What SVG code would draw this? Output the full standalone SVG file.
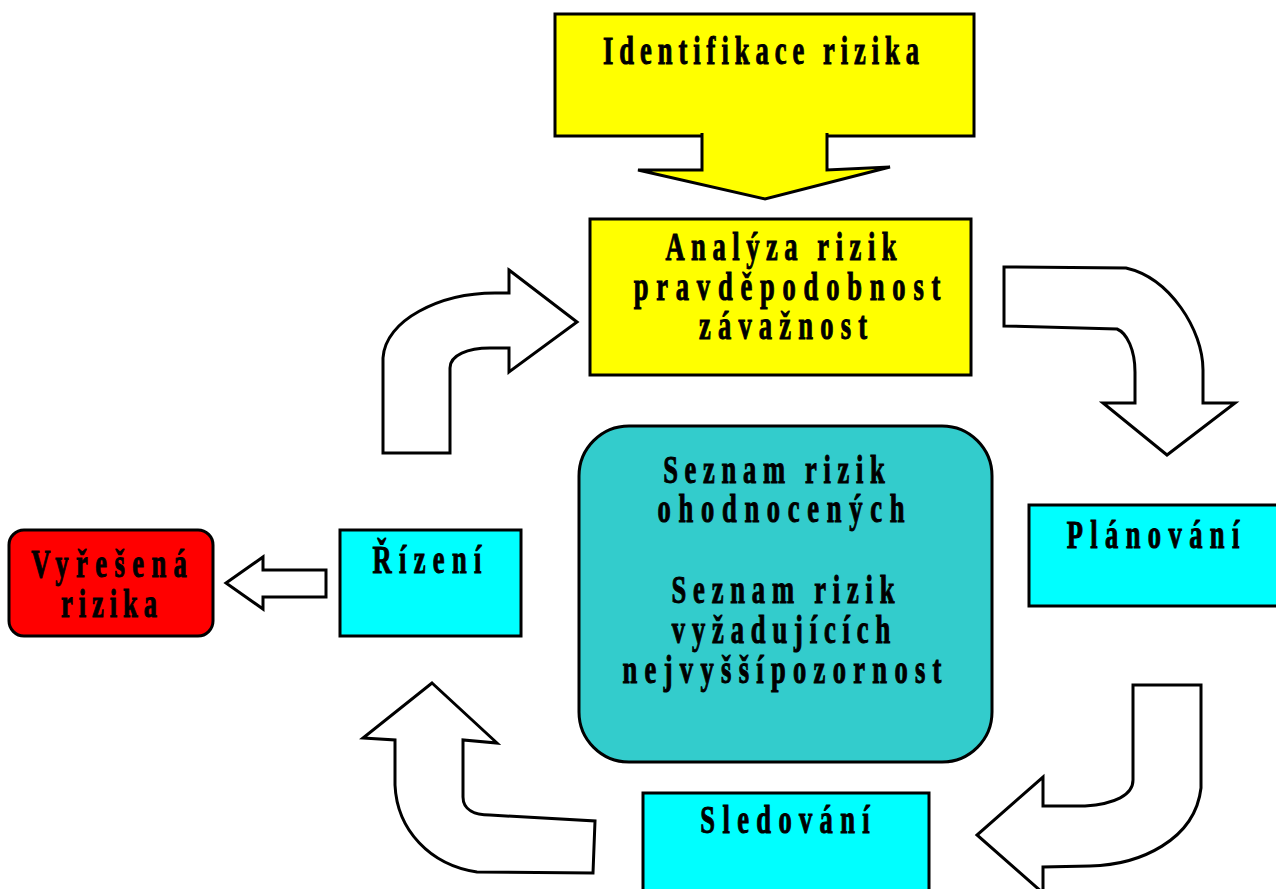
<svg xmlns="http://www.w3.org/2000/svg" width="1276" height="889" viewBox="0 0 1276 889">
  <style>
    .box { stroke: #000; stroke-width: 3; }
    .yellow { fill: #FFFF00; }
    .cyan { fill: #00FFFF; }
    .teal { fill: #33CCCC; }
    .red { fill: #FF0000; }
    .arrow { fill: #FFFFFF; stroke: #000; stroke-width: 3; stroke-linejoin: miter; }
    .t { font-family: "Liberation Serif", "Times New Roman", serif; font-weight: bold; font-size: 39px; fill: #000; stroke: #000; stroke-width: 1; text-anchor: middle; }
  </style>
  <rect width="1276" height="889" fill="#FFFFFF"/>

  <!-- boxes -->
  <g id="identifikace">
    <rect class="box yellow" x="555" y="14" width="419" height="122"/>
    <text class="t" transform="translate(761 0) scale(0.68 1)" y="64" textLength="465" lengthAdjust="spacing">Identifikace rizika</text>
  </g>

  <g id="analyza">
    <rect class="box yellow" x="590" y="219" width="381" height="156"/>
    <text class="t" transform="translate(781 0) scale(0.68 1)" y="260" textLength="340" lengthAdjust="spacing">Analýza rizik</text>
    <text class="t" transform="translate(787 0) scale(0.68 1)" y="300" textLength="451" lengthAdjust="spacing">pravděpodobnost</text>
    <text class="t" transform="translate(783 0) scale(0.68 1)" y="339" textLength="247" lengthAdjust="spacing">závažnost</text>
  </g>

  <g id="seznam">
    <rect class="box teal" x="579" y="426" width="413" height="336" rx="50" ry="50"/>
    <text class="t" transform="translate(774 0) scale(0.68 1)" y="483" textLength="326" lengthAdjust="spacing">Seznam rizik</text>
    <text class="t" transform="translate(781 0) scale(0.68 1)" y="522" textLength="363" lengthAdjust="spacing">ohodnocených</text>
    <text class="t" transform="translate(783 0) scale(0.68 1)" y="603" textLength="328" lengthAdjust="spacing">Seznam rizik</text>
    <text class="t" transform="translate(781 0) scale(0.68 1)" y="643" textLength="321" lengthAdjust="spacing">vyžadujících</text>
    <text class="t" transform="translate(782 0) scale(0.68 1)" y="683" textLength="469" lengthAdjust="spacing">nejvyššípozornost</text>
  </g>

  <g id="planovani">
    <rect class="box cyan" x="1029" y="505" width="260" height="101"/>
    <text class="t" transform="translate(1153 0) scale(0.68 1)" y="548" textLength="254" lengthAdjust="spacing">Plánování</text>
  </g>

  <g id="sledovani">
    <rect class="box cyan" x="643" y="793" width="286" height="110"/>
    <text class="t" transform="translate(785 0) scale(0.68 1)" y="833" textLength="249" lengthAdjust="spacing">Sledování</text>
  </g>

  <g id="rizeni">
    <rect class="box cyan" x="340" y="530" width="181" height="106"/>
    <text class="t" transform="translate(427 0) scale(0.68 1)" y="573" textLength="160" lengthAdjust="spacing">Řízení</text>
  </g>

  <g id="vyresena">
    <rect class="box red" x="9" y="530" width="204" height="106" rx="15" ry="15"/>
    <text class="t" transform="translate(109 0) scale(0.68 1)" y="577" textLength="229" lengthAdjust="spacing">Vyřešená</text>
    <text class="t" transform="translate(109 0) scale(0.68 1)" y="617" textLength="141" lengthAdjust="spacing">rizika</text>
  </g>

  <!-- block arrows between the stages -->
  <g id="connectors">
    <!-- identification feeds analysis: stem grows out of the box bottom -->
    <path d="M702,133 L702,170 L638,170 L765,199 L890,167 L827,170 L827,133" fill="#FFFF00" stroke="#000" stroke-width="3"/>
    <!-- analysis to planning -->
    <path class="arrow" d="M1004,267 L1126,268 C1170,278 1203,330 1203,370 L1203,403 L1235,403 L1167,455 L1103,403 L1135,403 L1135,372 C1135,350 1127,333 1117,329 L1004,326 Z"/>
    <!-- planning to monitoring -->
    <path class="arrow" d="M1133,685 L1201,685 L1201,788 C1195,840 1140,865 1090,866 L1043,867 L1043,893 L977,835 L1043,777 L1043,806 L1085,806 C1115,804 1133,795 1133,780 Z"/>
    <!-- monitoring to control -->
    <path class="arrow" d="M432,683 L497,743 L463,740 L463,797 C463,810 475,815 490,815 L595,821 L593,873 L477,872 C430,865 397,830 395,785 L395,740 L363,738 Z"/>
    <!-- control back to analysis -->
    <path class="arrow" d="M383,453 L383,358 C385,320 440,293 495,293 L509,293 L509,270 L577,322 L509,372 L509,348 L490,348 C468,348 450,355 450,368 L450,453 Z"/>
    <!-- control to resolved risks -->
    <path class="arrow" d="M326,570 L263,570 L263,557 L226,583 L263,609 L263,597 L326,597 Z"/>
  </g>
</svg>
